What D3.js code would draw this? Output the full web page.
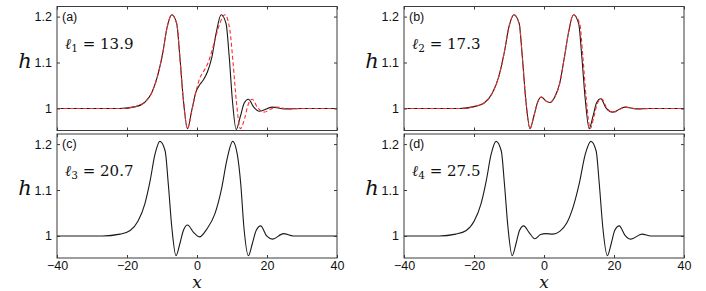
<!DOCTYPE html>
<html><head><meta charset="utf-8">
<script src="https://cdn.jsdelivr.net/npm/d3@7"></script>
<style>
body{margin:0;background:#fff}svg{display:block}
.serif{font-family:'DejaVu Serif','Liberation Serif',serif}
.sans{font-family:'Liberation Sans',Arial,Helvetica,sans-serif}
</style>
</head><body><svg id="c" width="706" height="291"></svg>
<script>
const xTicks = [-40, -20, 0, 20, 40];
const yTicks = [1, 1.1, 1.2];
const yTickLabels = ["1", "1.1", "1.2"];
const panelLabels = ["(a)", "(b)", "(c)", "(d)"];
const ellIndex = ["1", "2", "3", "4"];
const ellValues = ["13.9", "17.3", "20.7", "27.5"];

// panel (a)
const aBlackX = [-40,-22,-17.5,-15,-13,-11.3,-9.8,-8.5,-7.2,-5.8,-4.9,-3.9,-2.7,-1.5,-0.3,0.8,1.8,3.0,4.2,5.5,6.9,8.3,9.2,10.1,11.2,12.4,13.5,14.7,16.2,17.8,21.5,25,30,40];
const aBlackH = [1,1,1.004,1.013,1.033,1.070,1.120,1.178,1.204,1.185,1.113,1.019,0.956,0.996,1.036,1.052,1.062,1.080,1.110,1.165,1.204,1.185,1.113,1.019,0.954,0.983,1.012,1.020,1.003,0.994,1.003,0.999,1,1];
const aRedX = [-40,-22,-17.5,-15,-13,-11.3,-9.8,-8.5,-7.2,-5.8,-4.9,-3.9,-2.7,-1.6,-0.5,0.8,2.0,3.2,4.8,6.5,8.0,9.4,10.3,11.2,12.4,13.6,14.6,15.8,17.3,19.1,22.6,26.2,30,40];
const aRedH = [1,1,1.004,1.013,1.033,1.070,1.120,1.178,1.204,1.185,1.113,1.019,0.956,0.990,1.030,1.066,1.082,1.100,1.140,1.185,1.204,1.170,1.100,1.019,0.956,0.978,1.008,1.020,1.002,0.992,1.003,0.999,1,1];

// panel (b)
const bBlackX = [-40,-24,-20,-17.1,-14.8,-12.9,-11.4,-10.0,-8.6,-7.1,-6.2,-5.2,-4.0,-2.9,-1.9,-0.8,0.6,1.7,3.0,4.5,5.8,7.0,8.4,9.9,10.8,11.8,12.9,14.0,15.0,16.2,17.8,19.6,23.1,26.5,30,40];
const bBlackH = [1,1,1.004,1.012,1.033,1.070,1.120,1.178,1.204,1.185,1.113,1.019,0.956,0.983,1.012,1.025,1.016,1.013,1.024,1.055,1.110,1.165,1.204,1.185,1.113,1.019,0.956,0.983,1.012,1.021,1.000,0.992,1.003,0.999,1,1];
const bRedX = [-40,-24,-20,-17.1,-14.8,-12.9,-11.4,-10.0,-8.6,-7.1,-6.2,-5.2,-4.0,-2.9,-1.9,-0.8,0.6,1.7,3.0,4.5,5.8,7.0,8.4,10.2,11.1,12.1,13.2,14.3,15.3,16.5,18.0,19.8,23.3,26.7,30,40];
const bRedH = [1,1,1.004,1.012,1.033,1.070,1.120,1.178,1.204,1.185,1.113,1.019,0.956,0.983,1.012,1.025,1.016,1.013,1.024,1.055,1.110,1.165,1.204,1.185,1.113,1.019,0.956,0.983,1.012,1.021,1.000,0.992,1.003,0.999,1,1];

// panel (c)
const cBlackX = [-40,-27,-22,-19.1,-16.8,-14.9,-13.4,-12,-10.6,-9.1,-8.2,-7.2,-6,-4.9,-3.9,-2.7,-1,0.7,2.8,5.1,7.1,8.5,10.2,11.5,12.5,13.4,14.7,15.8,16.9,18.2,19.9,21.6,24.7,27.5,30,40];
const cBlackH = [1,1,1.004,1.012,1.033,1.070,1.120,1.178,1.206,1.185,1.113,1.019,0.957,0.983,1.012,1.024,1.008,0.998,1.015,1.048,1.106,1.164,1.206,1.178,1.113,1.019,0.957,0.983,1.012,1.022,1.000,0.993,1.005,1.000,1,1];

// panel (d)
const dBlackX = [-40,-30,-25.2,-22.2,-19.9,-18,-16.5,-15.1,-13.7,-12.2,-11.3,-10.3,-9.1,-8.0,-7.0,-5.8,-4.3,-2.6,-1.0,0.5,2.5,4.5,6.5,8.4,10.1,11.8,13.4,14.9,15.8,16.8,18.1,19.2,20.2,21.5,23.1,24.8,28,30.5,40];
const dBlackH = [1,1,1.004,1.012,1.033,1.070,1.120,1.178,1.206,1.185,1.113,1.019,0.957,0.983,1.012,1.022,1.008,0.994,1.003,1.005,1.004,1.010,1.028,1.065,1.115,1.178,1.206,1.185,1.113,1.019,0.957,0.983,1.012,1.022,1.002,0.993,1.004,1.000,1];

const panels = [
  {col:0,row:0,black:[aBlackX,aBlackH],red:[aRedX,aRedH]},
  {col:1,row:0,black:[bBlackX,bBlackH],red:[bRedX,bRedH]},
  {col:0,row:1,black:[cBlackX,cBlackH],red:null},
  {col:1,row:1,black:[dBlackX,dBlackH],red:null}
];

const svg = d3.select("#c");
const W = 280, H = 124;
const lefts = [57, 404];
const tops = [6.5, 134];
const frameColor = "#3a3a3a";
const defs = svg.append("defs");

panels.forEach((p, i) => {
  const ox = lefts[p.col], oy = tops[p.row];
  const x = d3.scaleLinear().domain([-40, 40]).range([0, W]);
  const y = d3.scaleLinear().domain([0.952, 1.222]).range([H, 0]);
  const g = svg.append("g").attr("transform", `translate(${ox},${oy})`);
  defs.append("clipPath").attr("id", "clip" + i).append("rect").attr("width", W).attr("height", H);

  const line = d3.line().x(d => x(d[0])).y(d => y(d[1])).curve(d3.curveMonotoneX);
  const cg = g.append("g").attr("clip-path", `url(#clip${i})`);
  const blackPts = p.black[0].map((v, k) => [v, p.black[1][k]]);
  cg.append("path").attr("d", line(blackPts)).attr("fill", "none")
    .attr("stroke", "#1a1a1a").attr("stroke-width", 1.1);
  if (p.red) {
    const redPts = p.red[0].map((v, k) => [v, p.red[1][k]]);
    cg.append("path").attr("d", line(redPts)).attr("fill", "none")
      .attr("stroke", "#ff2a2a").attr("stroke-width", 1.1).attr("stroke-dasharray", "4,2.5");
  }

  g.append("rect").attr("width", W).attr("height", H).attr("fill", "none")
    .attr("stroke", frameColor).attr("stroke-width", 1);

  const tl = 3;
  const axL = d3.axisLeft(y).tickValues(yTicks).tickSizeInner(-tl).tickSizeOuter(0)
    .tickPadding(5).tickFormat((d, k) => yTickLabels[k]);
  const gl = g.append("g").call(axL);
  const axR = d3.axisRight(y).tickValues(yTicks).tickSizeInner(-tl).tickSizeOuter(0).tickFormat("");
  const gr = g.append("g").attr("transform", `translate(${W},0)`).call(axR);
  const axT = d3.axisTop(x).tickValues(xTicks).tickSizeInner(-tl).tickSizeOuter(0).tickFormat("");
  const gt = g.append("g").call(axT);
  const axB = d3.axisBottom(x).tickValues(xTicks).tickSizeInner(-tl).tickSizeOuter(0)
    .tickPadding(3).tickFormat(p.row === 1 ? (d => d < 0 ? "\u2212" + Math.abs(d) : d) : "");
  const gb = g.append("g").attr("transform", `translate(0,${H})`).call(axB);
  [gl, gr, gt, gb].forEach(a => {
    a.select(".domain").remove();
    a.attr("font-family", null).attr("font-size", null);
    a.selectAll("line").attr("stroke", frameColor);
    a.selectAll("text").attr("class", "sans").style("font-size", "12.5px").attr("fill", "#111");
  });

  g.append("text").attr("class", "serif").attr("x", -32).attr("y", y(1.1) + 5)
    .attr("text-anchor", "middle").style("font-style", "italic").style("font-size", "21px")
    .attr("fill", "#111").text("h");

  g.append("text").attr("class", "sans").attr("x", 5).attr("y", 14)
    .style("font-size", "12.5px").attr("fill", "#111").text(panelLabels[i]);

  const t = g.append("text").attr("class", "serif").attr("x", 8).attr("y", 42)
    .style("font-size", "15px").attr("fill", "#111");
  t.append("tspan").style("font-style", "italic").text("\u2113");
  t.append("tspan").style("font-size", "10.5px").attr("dy", 3).text(ellIndex[i]);
  t.append("tspan").attr("dy", -3).text(" = " + ellValues[i]);

  if (p.row === 1) {
    g.append("text").attr("class", "serif").attr("x", x(0)).attr("y", H + 29.5)
      .attr("text-anchor", "middle").style("font-style", "italic").style("font-size", "17px")
      .attr("fill", "#111").text("x");
  }
});
</script></body></html>
